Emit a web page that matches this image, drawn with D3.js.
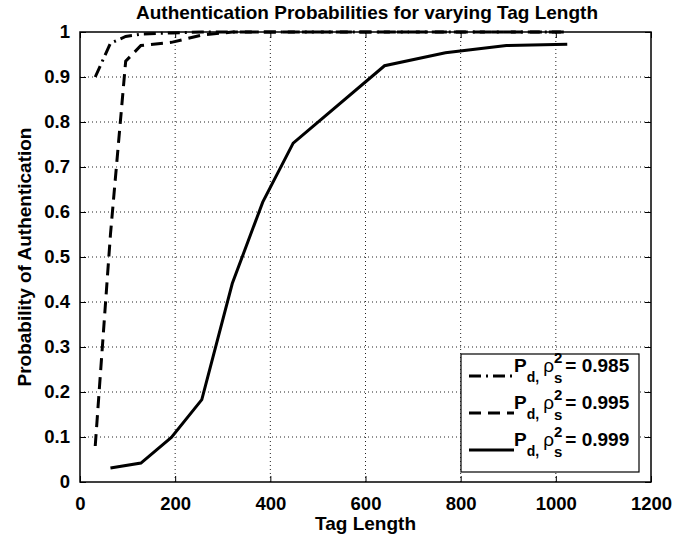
<!DOCTYPE html>
<html>
<head>
<meta charset="utf-8">
<script src="https://cdn.jsdelivr.net/npm/d3@7"></script>
<style>
  body { margin: 0; background: #fff; }
  svg { display: block; font-family: "Liberation Sans", Arial, Helvetica, sans-serif; }
  .tick-label { font-size: 18.5px; font-weight: bold; fill: #000; }
</style>
</head>
<body>
<div id="chart"></div>
<script>
// Dados
const xTicks = [0, 200, 400, 600, 800, 1000, 1200];
const yTicks = [0, 0.1, 0.2, 0.3, 0.4, 0.5, 0.6, 0.7, 0.8, 0.9, 1];
const yTickLabels = ["0", "0.1", "0.2", "0.3", "0.4", "0.5", "0.6", "0.7", "0.8", "0.9", "1"];

const len985 = [32, 64, 96, 128, 192, 256, 320, 448, 640, 768, 896, 1024];
const prob985 = [0.9, 0.975, 0.99, 0.995, 0.998, 1, 1, 1, 1, 1, 1, 1];

const len995 = [32, 64, 96, 128, 192, 256, 320, 448, 640, 768, 896, 1024];
const prob995 = [0.08, 0.55, 0.935, 0.97, 0.977, 0.993, 1, 1, 1, 1, 1, 1];

const len999 = [64, 128, 192, 256, 320, 384, 448, 640, 768, 896, 1024];
const prob999 = [0.031, 0.042, 0.099, 0.183, 0.441, 0.622, 0.753, 0.925, 0.954, 0.970, 0.973];

const legendValues = ["0.985", "0.995", "0.999"];
const dashStyles = ["12,5,2,5", "12,7", null];

const width = 698, height = 538;
const margin = { left: 80, right: 47, top: 32, bottom: 56 };
const plotW = width - margin.left - margin.right;
const plotH = height - margin.top - margin.bottom;

const svg = d3.select("#chart").append("svg")
  .attr("width", width)
  .attr("height", height);

const x = d3.scaleLinear().domain([0, 1200]).range([margin.left, margin.left + plotW]);
const y = d3.scaleLinear().domain([0, 1]).range([margin.top + plotH, margin.top]);

// Grade pontilhada
const grid = svg.append("g").attr("stroke", "#222").attr("stroke-width", 1)
  .attr("stroke-dasharray", "1,3");
xTicks.slice(1, -1).forEach(t => {
  grid.append("line").attr("x1", x(t)).attr("x2", x(t))
    .attr("y1", y(0)).attr("y2", y(1));
});
yTicks.slice(1, -1).forEach(t => {
  grid.append("line").attr("x1", x(0)).attr("x2", x(1200))
    .attr("y1", y(t)).attr("y2", y(t));
});

// Eixos (ticks para dentro, caixa fechada)
const tickLen = 6;
svg.append("g").attr("transform", `translate(0,${y(0)})`)
  .call(d3.axisBottom(x).tickValues(xTicks).tickSize(-tickLen).tickPadding(15)
    .tickFormat(d3.format("d")))
  .call(g => g.select(".domain").remove());
svg.append("g").attr("transform", `translate(0,${y(1)})`)
  .call(d3.axisTop(x).tickValues(xTicks).tickSize(-tickLen).tickFormat(""))
  .call(g => g.select(".domain").remove());
svg.append("g").attr("transform", `translate(${x(0)},0)`)
  .call(d3.axisLeft(y).tickValues(yTicks).tickSize(-tickLen).tickPadding(10)
    .tickFormat((d, i) => yTickLabels[i]))
  .call(g => g.select(".domain").remove());
svg.append("g").attr("transform", `translate(${x(1200)},0)`)
  .call(d3.axisRight(y).tickValues(yTicks).tickSize(-tickLen).tickFormat(""))
  .call(g => g.select(".domain").remove());

svg.selectAll(".tick line").attr("stroke", "#000").attr("stroke-width", 1);
svg.selectAll(".tick text").attr("class", "tick-label").attr("font-family", null).attr("font-size", null);

svg.append("rect")
  .attr("x", x(0)).attr("y", y(1))
  .attr("width", x(1200) - x(0)).attr("height", y(0) - y(1))
  .attr("fill", "none").attr("stroke", "#000").attr("stroke-width", 1.5);

// Curvas
const series = [
  { xs: len985, ys: prob985 },
  { xs: len995, ys: prob995 },
  { xs: len999, ys: prob999 }
];
const line = d3.line().x(d => x(d[0])).y(d => y(d[1]));

series.forEach((s, i) => {
  svg.append("path")
    .datum(s.xs.map((v, k) => [v, s.ys[k]]))
    .attr("d", line)
    .attr("fill", "none")
    .attr("stroke", "#000")
    .attr("stroke-width", 3)
    .attr("stroke-dasharray", dashStyles[i]);
});

// Titulo e rotulos
svg.append("text")
  .attr("x", 367).attr("y", 19)
  .attr("text-anchor", "middle")
  .attr("font-size", 19).attr("font-weight", "bold")
  .text("Authentication Probabilities for varying Tag Length");

svg.append("text")
  .attr("x", (x(0) + x(1200)) / 2).attr("y", 530)
  .attr("text-anchor", "middle")
  .attr("font-size", 19).attr("font-weight", "bold")
  .text("Tag Length");

svg.append("text")
  .attr("transform", `translate(31,${(y(0) + y(1)) / 2}) rotate(-90)`)
  .attr("text-anchor", "middle")
  .attr("font-size", 19).attr("font-weight", "bold")
  .text("Probability of Authentication");

// Legenda
const legend = svg.append("g");
legend.append("rect")
  .attr("x", 461).attr("y", 354)
  .attr("width", 178).attr("height", 118)
  .attr("fill", "#fff").attr("stroke", "#000").attr("stroke-width", 1.2);

const rowY = [376, 413, 450];
legendValues.forEach((val, i) => {
  const ry = rowY[i];
  legend.append("line")
    .attr("x1", 469).attr("x2", 514)
    .attr("y1", ry).attr("y2", ry)
    .attr("stroke", "#000").attr("stroke-width", 3)
    .attr("stroke-dasharray", dashStyles[i]);

  let cx = 514;
  const base = ry - 4;
  function piece(txt, size, dy, weight) {
    const t = legend.append("text")
      .attr("x", cx).attr("y", base + dy)
      .attr("font-size", size).attr("font-weight", weight)
      .text(txt);
    return t.node().getComputedTextLength();
  }
  cx += piece("P", 19, 0, "bold");
  cx += piece("d,", 14, 10, "bold") + 4;
  cx += piece("ρ", 19, 0, "normal");
  const ws = piece("s", 15, 11, "bold");
  piece("2", 15, -9, "bold");
  cx += ws + 3;
  piece("= " + val, 19, 0, "bold");
});
</script>
</body>
</html>
